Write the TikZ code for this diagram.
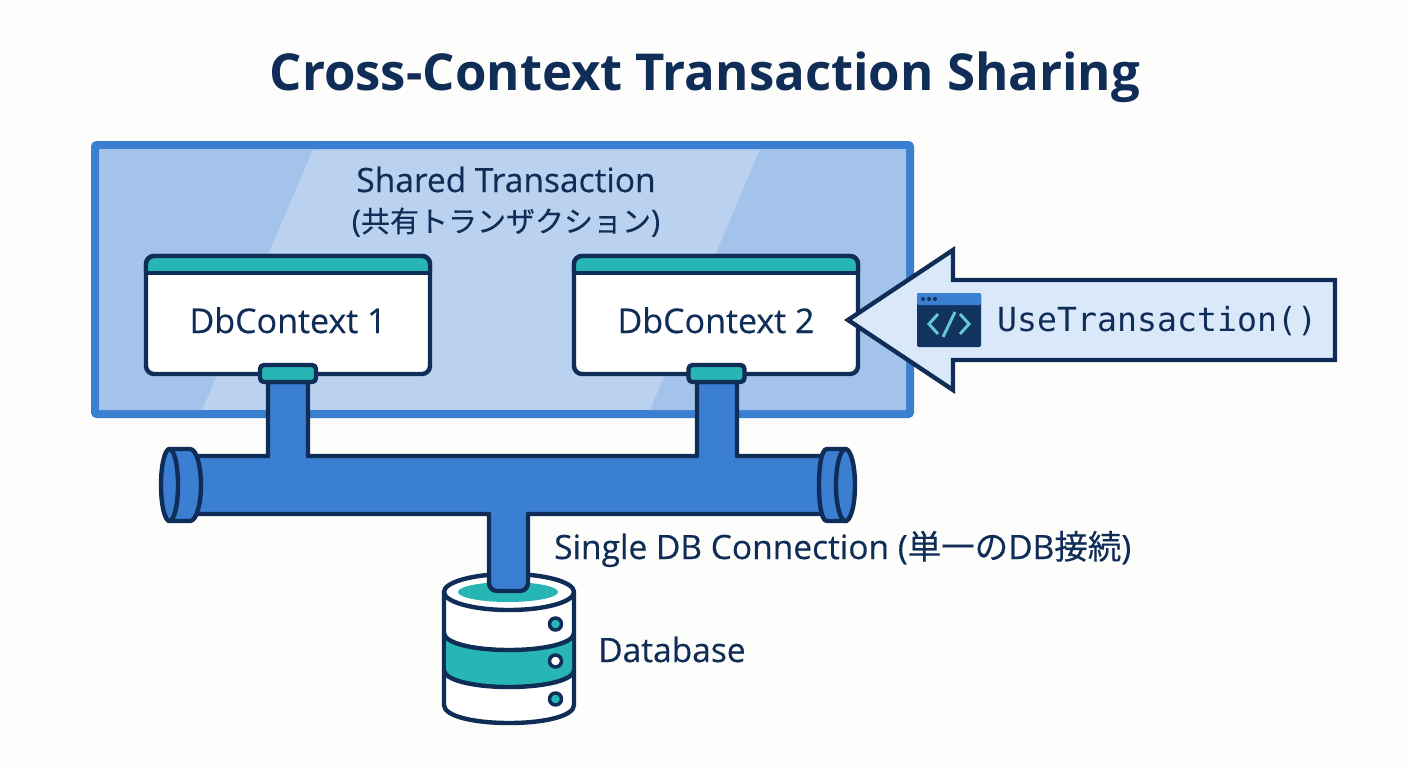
\documentclass[tikz,border=0pt]{standalone}
\usepackage{fontspec}
\setmainfont{Open Sans}[FakeBold=0.35]
\newfontfamily\titlefont{Open Sans}[BoldFont={Open Sans Bold}]
\newfontfamily\cjk{Noto Sans CJK JP}[FakeBold=0.3]
\newfontfamily\codefont{DejaVu Sans Mono}
\definecolor{pagebg}{HTML}{FDFDFB}
\definecolor{navy}{HTML}{0F2D57}
\definecolor{pipeblue}{HTML}{3A7FD2}
\definecolor{bandlight}{HTML}{BAD2EF}
\definecolor{banddark}{HTML}{A3C3EA}
\definecolor{tealtop}{HTML}{28B6B4}
\definecolor{arrowfill}{HTML}{DAE9FA}
\definecolor{iconnavy}{HTML}{12325F}
\definecolor{iconteal}{HTML}{62C6D6}
\tikzset{
	outline/.style={draw=navy, line width=4.4pt, line join=round},
	txbox/.style={draw=pipeblue, line width=8pt, fill=bandlight, rounded corners=2pt},
	ctxbox/.style={outline, fill=white, rounded corners=8pt, minimum width=284pt, minimum height=118pt, outer sep=0pt, inner sep=0pt},
	tabbox/.style={outline, fill=tealtop, rounded corners=4pt, minimum width=56pt, minimum height=17pt, outer sep=0pt, inner sep=0pt},
	pipe/.style={outline, fill=pipeblue},
	textlabel/.style={text=navy, inner sep=0pt, anchor=base, font=\fontsize{33.5}{33.5}\selectfont},
	dbdot/.style={outline, line width=3.5pt, circle, minimum size=12pt, inner sep=0pt},
}
\begin{document}
\begin{tikzpicture}[x=1pt,y=-1pt]
	
	\useasboundingbox[fill=pagebg] (0,0) rectangle (1408,768);
	
	\node[text=navy, inner sep=0pt, anchor=base, font=\fontsize{50.9}{51}\titlefont\bfseries] (title) at (705,90) {Cross-Context Transaction Sharing};
	
	\draw[txbox] (95,145) rectangle (910,414);
	\fill[banddark] (99,149) -- (313,149) -- (202,410) -- (99,410) -- cycle;
	\fill[banddark] (760,149) -- (906,149) -- (906,410) -- (650,410) -- cycle;
	\node[textlabel] (txlabel1) at (506,192) {Shared Transaction};
	\node[textlabel, font=\fontsize{31}{31}\selectfont] (txlabel2) at (506,232) {({\cjk\fontsize{29}{29}\selectfont 共有トランザクション})};
	
	\node[ctxbox] (ctx1) at (288,315) {};
	\draw[outline, fill=tealtop, rounded corners=8pt] (146,273) -- (146,256) -- (430,256) -- (430,273);
	\draw[outline] (146,273) -- (430,273);
	\node[textlabel, font=\fontsize{34}{34}\selectfont] (ctxlabel1) at (288,333) {DbContext 1};
	
	\node[ctxbox] (ctx2) at (716,315) {};
	\draw[outline, fill=tealtop, rounded corners=8pt] (574,273) -- (574,256) -- (858,256) -- (858,273);
	\draw[outline] (574,273) -- (858,273);
	\node[textlabel, font=\fontsize{34}{34}\selectfont] (ctxlabel2) at (716,333) {DbContext 2};
	
	\draw[outline, fill=white] (444,705) .. controls (444,716) and (473,723) .. (509,723) .. controls (545,723) and (574,716) .. (574,705) -- (574,592) -- (444,592) -- cycle;
	\fill[tealtop] (446,633) .. controls (446,643) and (473,650) .. (509,650) .. controls (545,650) and (572,643) .. (572,633) -- (572,670) .. controls (572,680) and (545,687) .. (509,687) .. controls (473,687) and (446,680) .. (446,670) -- cycle;
	\draw[outline] (444,633) .. controls (444,643) and (473,650) .. (509,650) .. controls (545,650) and (574,643) .. (574,633);
	\draw[outline] (444,670) .. controls (444,680) and (473,687) .. (509,687) .. controls (545,687) and (574,680) .. (574,670);
	\draw[outline, fill=white] (509,592) ellipse [x radius=65, y radius=18];
	\fill[tealtop] (508,592) ellipse [x radius=50, y radius=10];
	\node[dbdot, fill=tealtop] (dot1) at (555.5,624) {};
	\node[dbdot, fill=white] (dot2) at (555.5,661) {};
	\node[dbdot, fill=tealtop] (dot3) at (555.5,699) {};
	
	\draw[pipe] (190,456) -- (268,456) -- (268,382) -- (308,382) -- (308,456) -- (697,456) -- (697,382) -- (737,382) -- (737,456) -- (826,456) -- (826,514) -- (528,514) [rounded corners=8pt] -- (528,591) -- (489,591) [sharp corners] -- (489,514) -- (190,514) -- cycle;
	
	\node[tabbox] (tab1) at (288,373.5) {};
	\node[tabbox] (tab2) at (716.5,373.5) {};
	
	\draw[pipe] (169,449) -- (190,449) .. controls (197,449) and (201,468) .. (201,485) .. controls (201,502) and (197,521) .. (190,521) -- (169,521) -- cycle;
	\draw[pipe] (169.5,485) ellipse [x radius=8.5, y radius=36];
	\draw[pipe] (846,449) -- (827,449) .. controls (821,449) and (819,468) .. (819,485) .. controls (819,502) and (821,521) .. (827,521) -- (846,521) -- cycle;
	\draw[pipe] (845.5,485) ellipse [x radius=9.5, y radius=36];
	
	\node[textlabel, anchor=base west] (linklabel) at (554,559) {Single DB Connection ({\cjk 単一の}DB{\cjk 接続})};
	\node[textlabel, anchor=base west] (dblabel) at (598,662) {Database};
	
	\draw[outline, fill=arrowfill, line join=miter] (848,320) -- (953,250) -- (953,280) -- (1335,280) -- (1335,360) -- (953,360) -- (953,390) -- cycle;
	
	\fill[iconnavy, rounded corners=2pt] (917,293) rectangle (981,347);
	\fill[pipeblue, rounded corners=2pt] (917,293) rectangle (981,305);
	\fill[iconnavy] (923,299) circle (2) (929,299) circle (2) (935,299) circle (2);
	\draw[iconteal, line width=3pt] (938,314) -- (929,324) -- (938,334);
	\draw[iconteal, line width=3pt] (960,314) -- (969,324) -- (960,334);
	\draw[iconteal, line width=3pt] (943,337) -- (955,312);
	\node[text=navy, inner sep=0pt, anchor=base west, font=\fontsize{33.2}{33}\codefont] (codelabel) at (997,331) {UseTransaction()};
	
\end{tikzpicture}
\end{document}
